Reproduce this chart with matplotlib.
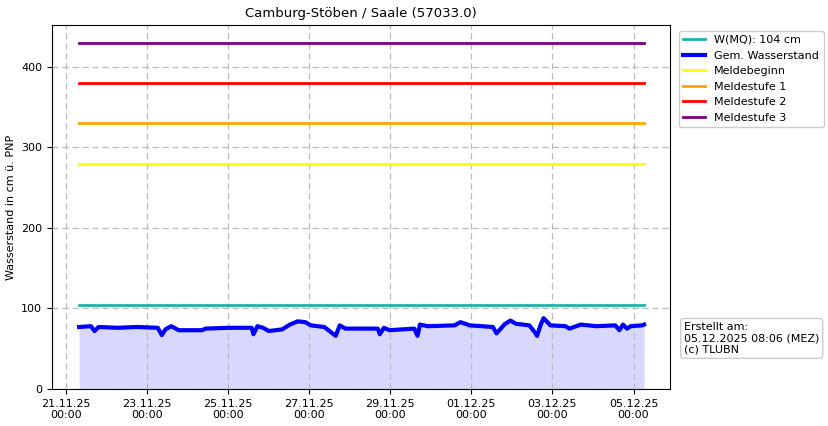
import matplotlib
matplotlib.use("Agg")
import matplotlib.pyplot as plt
import matplotlib.dates as mdates
import numpy as np
from datetime import datetime, timedelta

start = datetime(2025, 11, 21)
days = [0.32,0.61,0.70,0.80,1.27,1.74,2.26,2.36,2.45,2.59,2.78,3.35,3.44,4.01,4.58,4.62,4.72,4.86,5.00,
        5.33,5.52,5.71,5.90,6.04,6.37,6.65,6.75,6.89,7.69,7.74,7.84,7.98,8.59,8.67,8.73,8.92,9.58,9.73,
        9.96,10.25,10.53,10.62,10.81,10.96,11.10,11.43,11.57,11.62,11.71,11.78,11.95,12.32,12.42,12.70,
        13.08,13.55,13.65,13.74,13.84,13.93,14.21,14.26]
level = [77,78,72,77,76,77,76,67,74,78,73,73,75,76,76,68,78,76,72,
         74,80,84,83,79,77,66,79,75,75,68,76,73,75,66,80,78,79,83,
         79,78,77,69,80,85,81,79,70,66,80,88,79,78,75,80,
         78,79,73,80,75,78,79,80]
mq = 104
meldebeginn, stufe1, stufe2, stufe3 = 280, 330, 380, 430

t = [start + timedelta(days=d) for d in days]
t0, t1 = t[0], t[-1]

fig = plt.figure(figsize=(8.29, 4.26), dpi=100)
ax = fig.add_axes([52/829, 1-389/426, (670-52)/829, (389-25)/426])
ax.fill_between(t, level, 0, color="#d8d8ff", lw=0)
ax.plot([t0, t1], [mq, mq], color="#20b2aa", lw=2, label=f"W(MQ): {mq} cm")
ax.plot(t, level, color="blue", lw=3, label="Gem. Wasserstand")
ax.plot([t0, t1], [meldebeginn]*2, color="yellow", lw=2, label="Meldebeginn")
ax.plot([t0, t1], [stufe1]*2, color="orange", lw=2, label="Meldestufe 1")
ax.plot([t0, t1], [stufe2]*2, color="red", lw=2, label="Meldestufe 2")
ax.plot([t0, t1], [stufe3]*2, color="purple", lw=2, label="Meldestufe 3")

ax.set_ylim(0, 452)
ax.set_xlim(start - timedelta(days=0.35), start + timedelta(days=14.9))
ax.xaxis.set_major_locator(mdates.DayLocator(interval=2))
ax.xaxis.set_major_formatter(mdates.DateFormatter("%d.%m.%y\n%H:%M"))
ax.set_yticks([0, 100, 200, 300, 400])
ax.grid(True, ls=(0, (5, 3)), color="#bbbbbb", lw=0.9)
ax.tick_params(labelsize=8)
ax.set_ylabel("Wasserstand in cm ü. PNP", fontsize=8)
ax.set_title("Camburg-Stöben / Saale (57033.0)", fontsize=9.5)
ax.legend(loc="upper left", bbox_to_anchor=(1.005, 1.0), fontsize=8, framealpha=1)
fig.text(684/829, 1-355/426, "Erstellt am:\n05.12.2025 08:06 (MEZ)\n(c) TLUBN", fontsize=8,
         va="bottom", ha="left",
         bbox=dict(boxstyle="round,pad=0.3", fc="white", ec="#cccccc"))
fig.savefig("out.png", dpi=100)
